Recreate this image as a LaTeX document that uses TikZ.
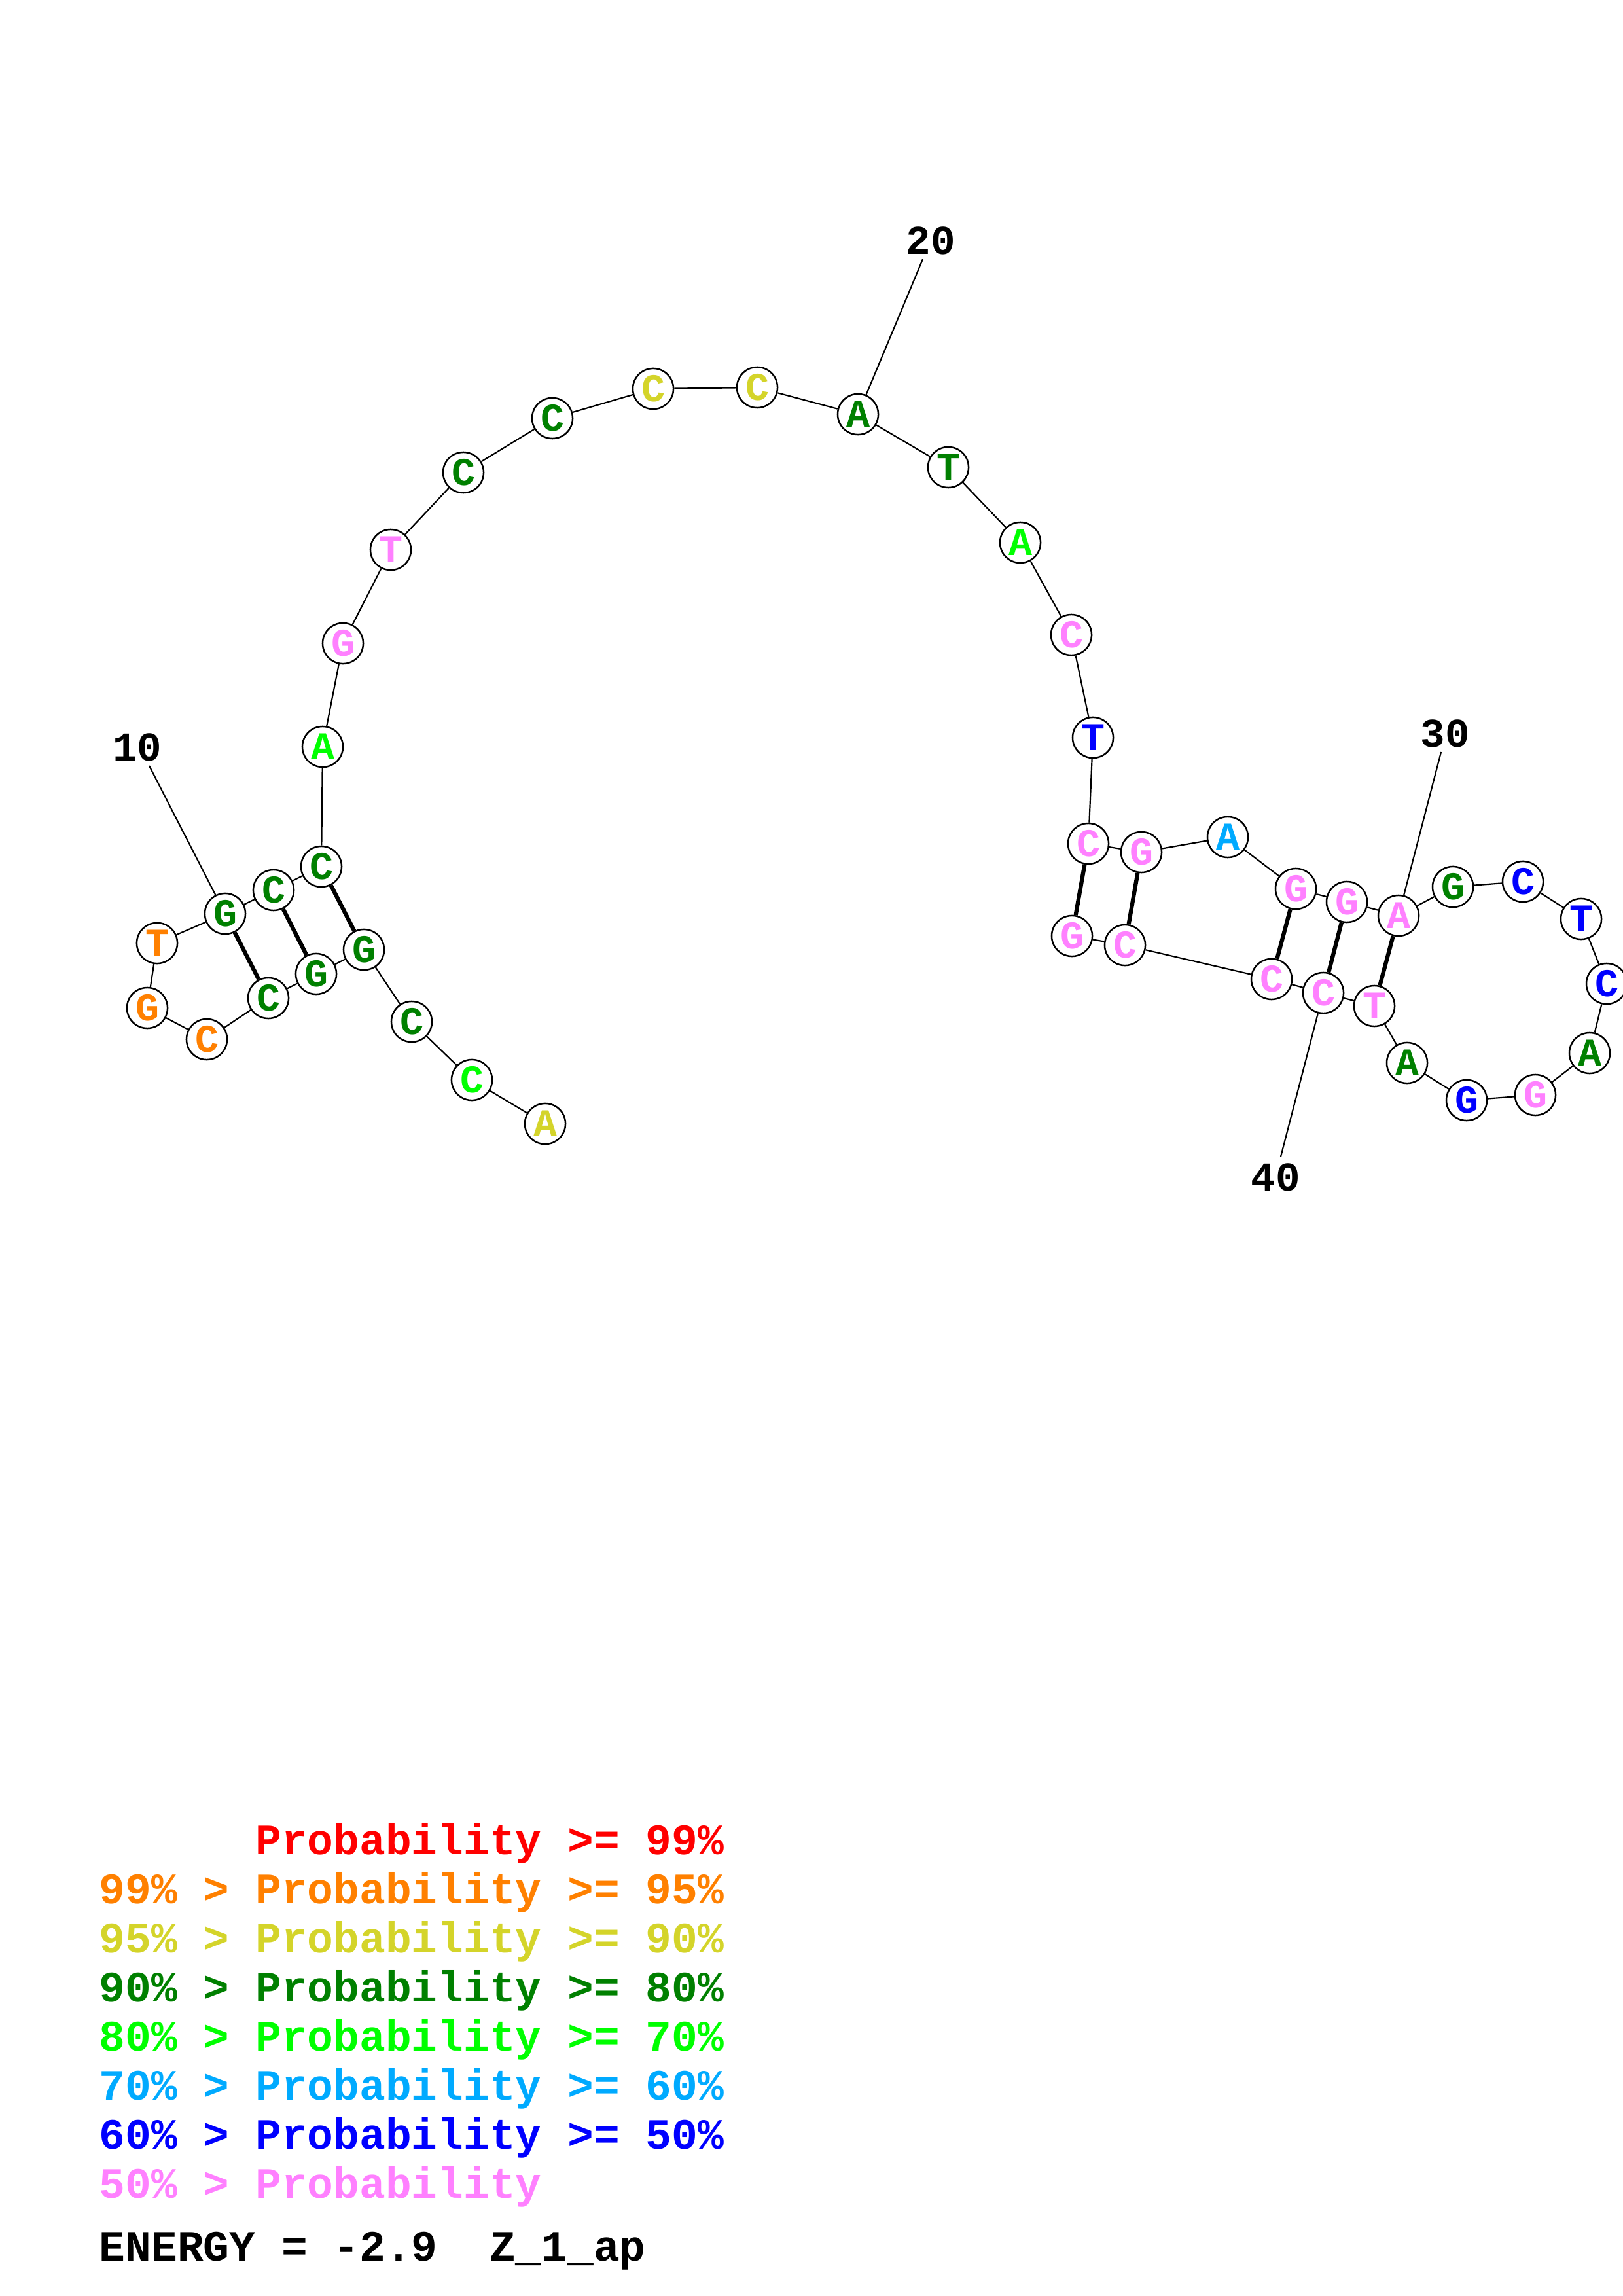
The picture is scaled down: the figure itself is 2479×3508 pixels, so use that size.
\documentclass[tikz,border=0pt]{standalone}
\usepackage{fontspec}
\setmonofont{Liberation Mono}
\definecolor{cR}{RGB}{255,0,0}
\definecolor{cO}{RGB}{255,128,0}
\definecolor{cY}{RGB}{212,212,42}
\definecolor{cDG}{RGB}{0,128,0}
\definecolor{cG}{RGB}{0,255,0}
\definecolor{cLB}{RGB}{0,170,255}
\definecolor{cB}{RGB}{0,0,255}
\definecolor{cP}{RGB}{255,128,255}
\tikzset{
  nt/.style={circle, draw, line width=0.6pt, fill=white, minimum size=14.9pt, inner sep=0pt,
    font=\ttfamily\bfseries\fontsize{14.4}{14.4}\selectfont},
  bb/.style={line width=0.52pt},
  bond/.style={line width=1.5pt},
  lbl/.style={inner sep=0pt, font=\ttfamily\bfseries\fontsize{15}{15}\selectfont},
  lg/.style={inner sep=0pt, anchor=base west, font=\ttfamily\bfseries\fontsize{15.9}{15.9}\selectfont}
}
\begin{document}
\begin{tikzpicture}[x=0.24pt,y=-0.24pt]
\useasboundingbox (0,0) rectangle (2479,3508);
% nucleotides
\node[nt,text=cY]  (n1)  at (833,1717) {A};
\node[nt,text=cG]  (n2)  at (721,1650) {C};
\node[nt,text=cDG] (n3)  at (629,1561) {C};
\node[nt,text=cDG] (n4)  at (556,1451) {G};
\node[nt,text=cDG] (n5)  at (483,1488) {G};
\node[nt,text=cDG] (n6)  at (410,1525) {C};
\node[nt,text=cO]  (n7)  at (316,1588) {C};
\node[nt,text=cO]  (n8)  at (225,1540) {G};
\node[nt,text=cO]  (n9)  at (240,1441) {T};
\node[nt,text=cDG] (n10) at (344,1396) {G};
\node[nt,text=cDG] (n11) at (418,1360) {C};
\node[nt,text=cDG] (n12) at (491,1324) {C};
\node[nt,text=cG]  (n13) at (493,1141) {A};
\node[nt,text=cP]  (n14) at (524,983) {G};
\node[nt,text=cP]  (n15) at (597,840) {T};
\node[nt,text=cDG] (n16) at (708,722) {C};
\node[nt,text=cDG] (n17) at (844,639) {C};
\node[nt,text=cY]  (n18) at (998,594) {C};
\node[nt,text=cY]  (n19) at (1157,592) {C};
\node[nt,text=cDG] (n20) at (1311,633) {A};
\node[nt,text=cDG] (n21) at (1449,714) {T};
\node[nt,text=cG]  (n22) at (1559,829) {A};
\node[nt,text=cP]  (n23) at (1637,970) {C};
\node[nt,text=cB]  (n24) at (1670,1127) {T};
\node[nt,text=cP]  (n25) at (1663,1289) {C};
\node[nt,text=cP]  (n26) at (1744,1302) {G};
\node[nt,text=cLB] (n27) at (1876,1279) {A};
\node[nt,text=cP]  (n28) at (1980,1358) {G};
\node[nt,text=cP]  (n29) at (2058,1378) {G};
\node[nt,text=cP]  (n30) at (2137,1399) {A};
\node[nt,text=cDG] (n31) at (2220,1355) {G};
\node[nt,text=cB]  (n32) at (2327,1347) {C};
\node[nt,text=cB]  (n33) at (2416,1404) {T};
\node[nt,text=cB]  (n34) at (2455,1503) {C};
\node[nt,text=cDG] (n35) at (2429,1609) {A};
\node[nt,text=cP]  (n36) at (2346,1673) {G};
\node[nt,text=cB]  (n37) at (2241,1681) {G};
\node[nt,text=cDG] (n38) at (2150,1624) {A};
\node[nt,text=cP]  (n39) at (2100,1537) {T};
\node[nt,text=cP]  (n40) at (2022,1517) {C};
\node[nt,text=cP]  (n41) at (1943,1496) {C};
\node[nt,text=cP]  (n42) at (1719,1444) {C};
\node[nt,text=cP]  (n43) at (1638,1430) {G};
% backbone
\foreach \a/\b in {1/2,2/3,3/4,4/5,5/6,6/7,7/8,8/9,9/10,10/11,11/12,12/13,13/14,14/15,15/16,16/17,17/18,18/19,19/20,20/21,21/22,22/23,23/24,24/25,25/26,26/27,27/28,28/29,29/30,30/31,31/32,32/33,33/34,34/35,35/36,36/37,37/38,38/39,39/40,40/41,41/42,42/43}
  \draw[bb] (n\a) -- (n\b);
% pairs
\foreach \a/\b in {4/12,5/11,6/10,25/43,26/42,28/41,29/40,30/39}
  \draw[bond] (n\a) -- (n\b);
% number labels
\node[lbl] (t10) at (210,1142) {10};
\node[lbl] (t20) at (1422,368) {20};
\node[lbl] (t30) at (2208,1121) {30};
\node[lbl] (t40) at (1949,1799) {40};
\coordinate (c10) at (228,1170);
\coordinate (c20) at (1410,396);
\coordinate (c30) at (2202,1149);
\coordinate (c40) at (1957,1767);
\draw[bb] (c10) -- (n10);
\draw[bb] (c20) -- (n20);
\draw[bb] (c30) -- (n30);
\draw[bb] (c40) -- (n40);
% legend
\node[lg,text=cR]  (g1) at (151,2833) {\phantom{99\% > }Probability >= 99\%};
\node[lg,text=cO]  (g2) at (151,2908) {99\% > Probability >= 95\%};
\node[lg,text=cY]  (g3) at (151,2983) {95\% > Probability >= 90\%};
\node[lg,text=cDG] (g4) at (151,3058) {90\% > Probability >= 80\%};
\node[lg,text=cG]  (g5) at (151,3133) {80\% > Probability >= 70\%};
\node[lg,text=cLB] (g6) at (151,3208) {70\% > Probability >= 60\%};
\node[lg,text=cB]  (g7) at (151,3283) {60\% > Probability >= 50\%};
\node[lg,text=cP]  (g8) at (151,3358) {50\% > Probability};
\node[lg,text=black] (g9) at (151,3454) {ENERGY = -2.9\ \ Z\_1\_ap};
\end{tikzpicture}
\end{document}
